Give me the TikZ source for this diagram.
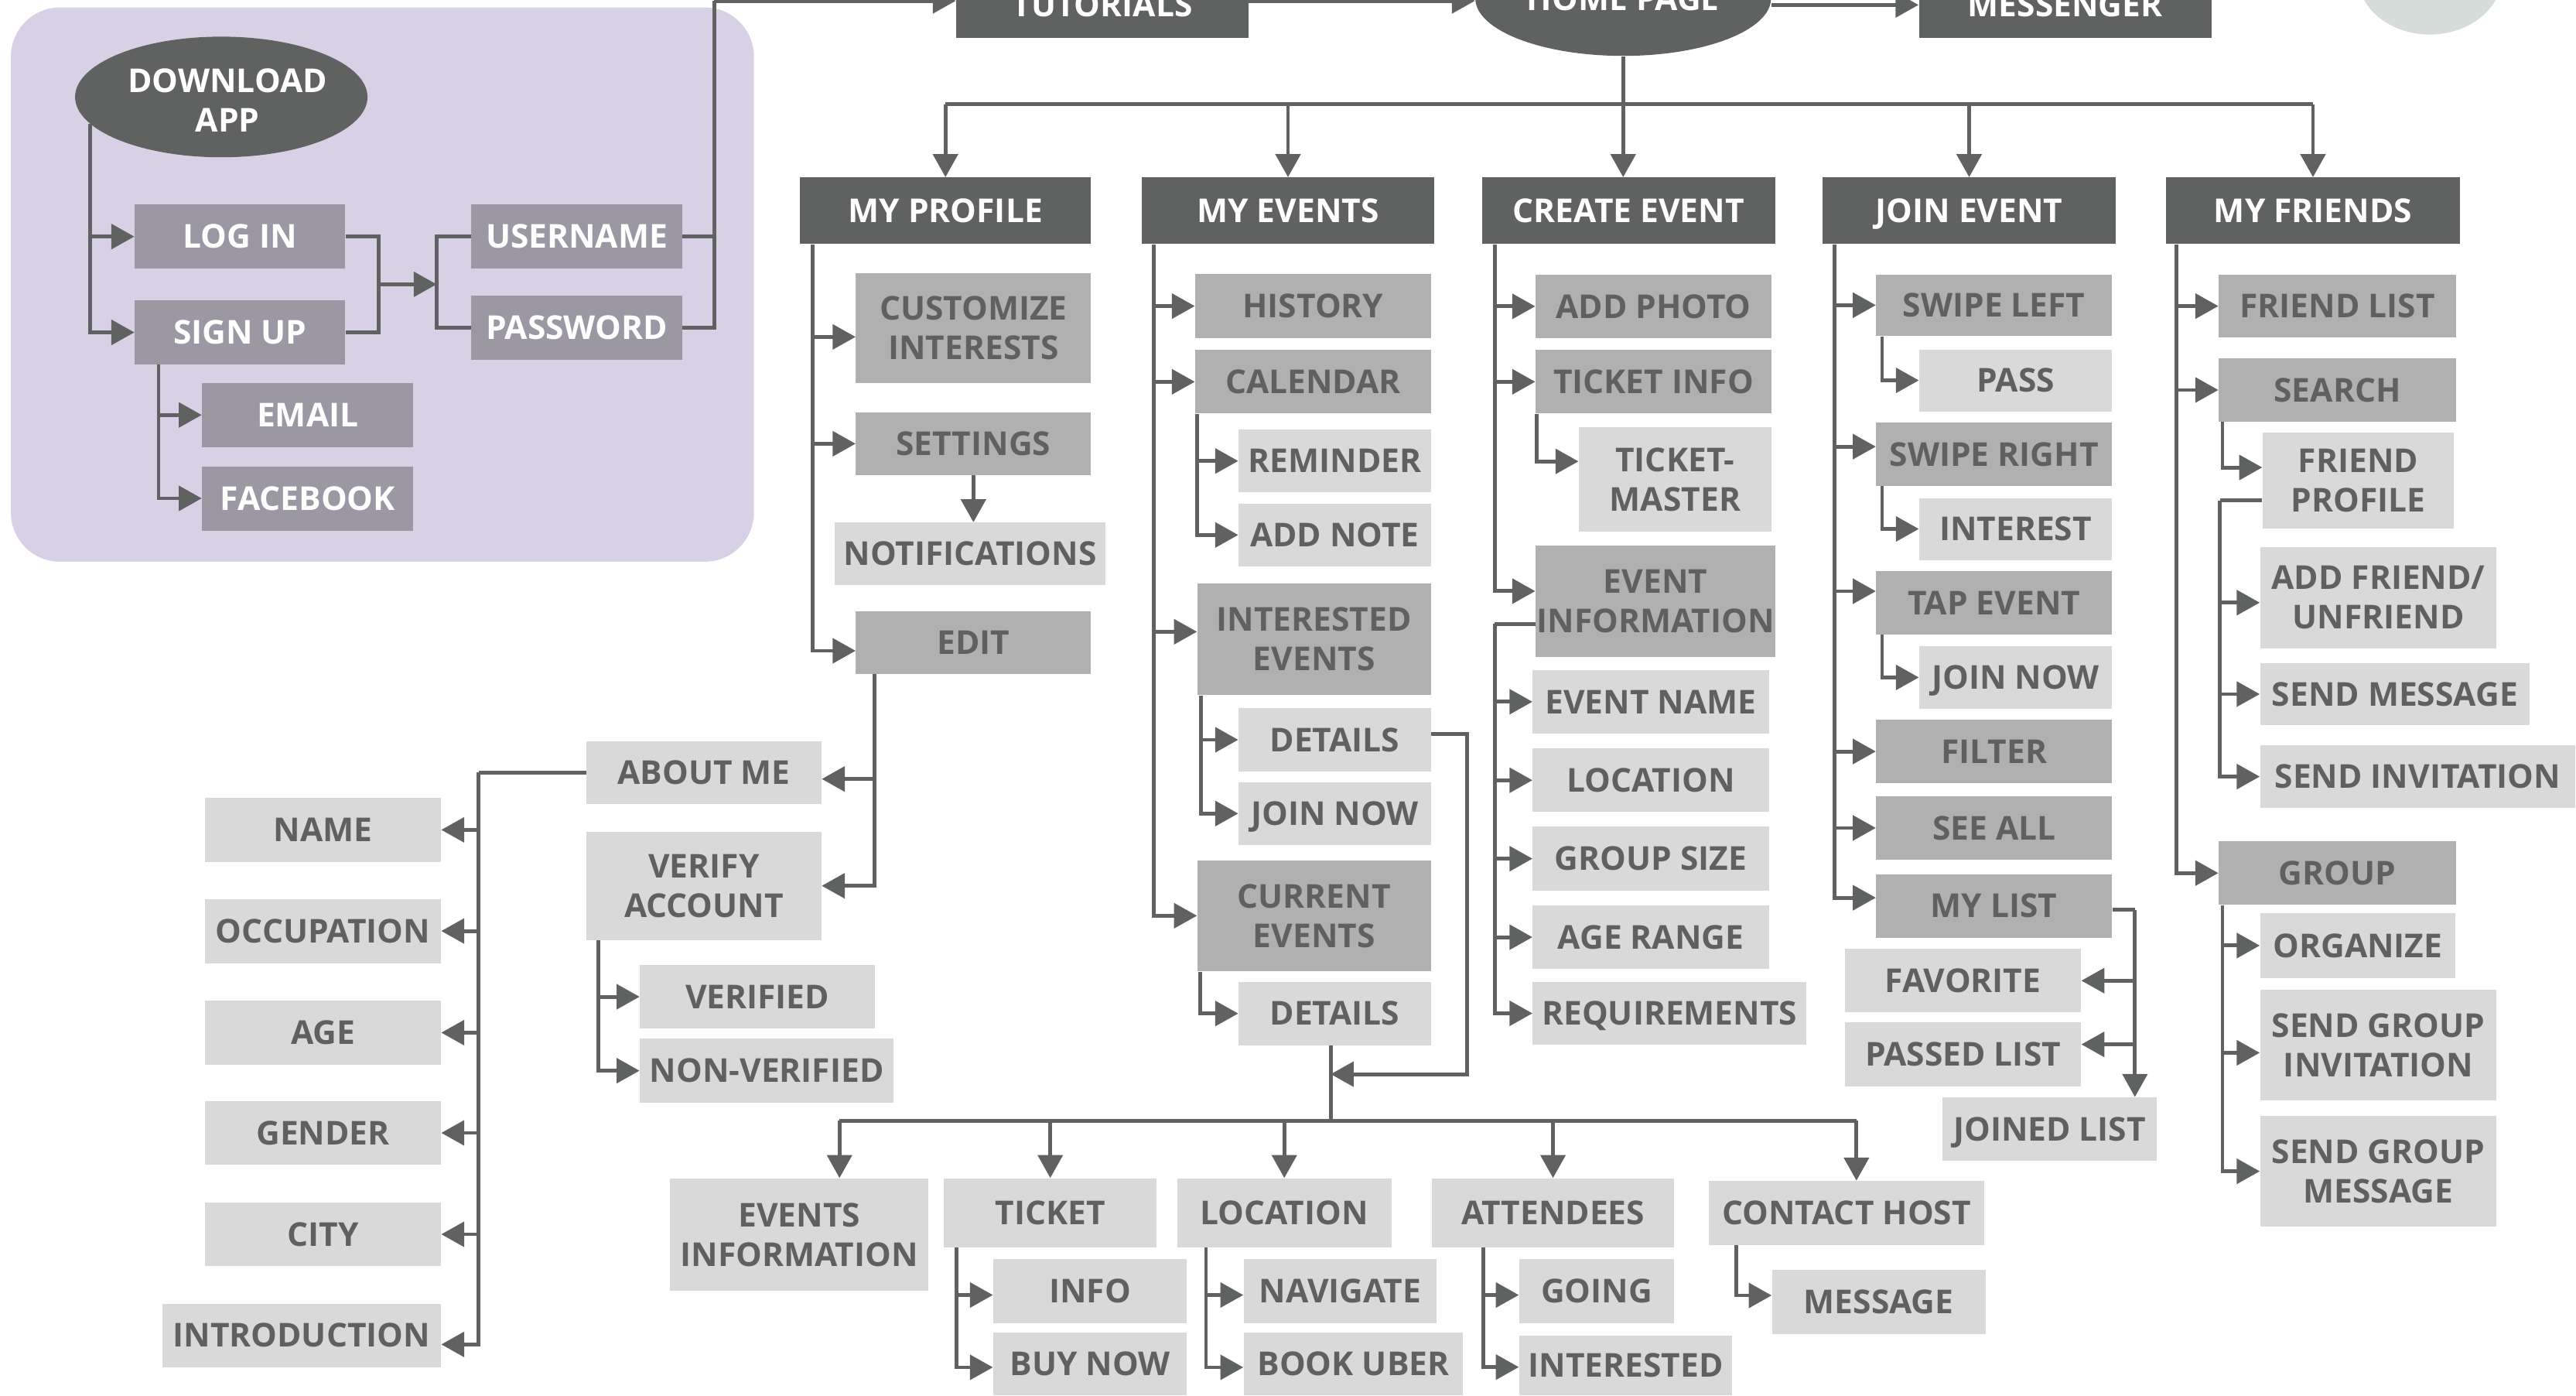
\documentclass[tikz,border=0pt]{standalone}
\usepackage{fontspec}
\setmainfont{Open Sans}
\usetikzlibrary{arrows.meta,shapes.geometric}

\definecolor{cdark}{HTML}{606261}
\definecolor{cmid}{HTML}{B0B0B0}
\definecolor{clight}{HTML}{D9D9D9}
\definecolor{cpbox}{HTML}{9B98A3}
\definecolor{cpbg}{HTML}{D8D1E6}
\definecolor{ctext}{HTML}{5F6160}
\definecolor{cblob}{HTML}{D6DCDA}

\tikzset{
  lbl/.style={rectangle, inner sep=0pt, align=center,
              font=\fontsize{20}{24}\selectfont\bfseries},
  hdr/.style={lbl, fill=cdark, text=white},
  midbox/.style={lbl, fill=cmid, text=ctext},
  litebox/.style={lbl, fill=clight, text=ctext},
  pbox/.style={lbl, fill=cpbox, text=white},
  nodepth/.style={text depth=0pt},
  link/.style={draw=cdark, line width=2.3pt},
  arr/.style={link, -{Triangle[length=14pt,width=15pt]}},
}

% box from its corners: name, style, x1, y1, x2, y2, text
\newcommand\mkbox[7]{%
  \node[#2, minimum width={(#5)-(#3)}, minimum height={(#6)-(#4)}]
    (#1) at ({((#3)+(#5))/2},{((#4)+(#6))/2}) {#7};}

\begin{document}
\begin{tikzpicture}[x=1pt,y=-1pt]
\clip (0,0) rectangle (1568,849);
\fill[white] (0,0) rectangle (1568,849);

% corner ornament
\fill[cblob] (1479,-15) ellipse [x radius=44, y radius=36];

% ---------- sign-in panel ----------
\fill[cpbg, rounded corners=30pt] (6.6,4.5) rectangle (458.9,341.8);
\node[ellipse, fill=cdark, inner sep=0pt, minimum width=178, minimum height=73.4]
  (dl) at (134.7,59) {};
\node[lbl, text=white] (dltext) at (138.5,61) {DOWNLOAD\\APP};
\mkbox{login}{pbox}{82}{124.4}{210.2}{163.5}{LOG IN}
\mkbox{signup}{pbox}{82}{182.7}{210.2}{221.8}{SIGN UP}
\mkbox{user}{pbox}{286.8}{124.4}{415.3}{163.5}{USERNAME}
\mkbox{pass}{pbox}{286.8}{179.8}{415.3}{219}{PASSWORD}
\mkbox{email}{pbox}{123}{233}{251.6}{272}{EMAIL}
\mkbox{fb}{pbox}{123}{283.7}{251.6}{322.8}{FACEBOOK}

% ---------- top row ----------
\mkbox{tut}{hdr}{582}{-17}{760}{23}{TUTORIALS}
\node[lbl, ellipse, fill=cdark, text=white, minimum width=180, minimum height=70]
  (home) at (988,-1) {HOME PAGE};
\mkbox{msg}{hdr}{1168}{-17}{1346}{23}{MESSENGER}

% ---------- section headers ----------
\mkbox{mp}{hdr}{487}{108}{664}{148.5}{MY PROFILE}
\mkbox{me}{hdr}{695}{108}{873}{148.5}{MY EVENTS}
\mkbox{ce}{hdr}{902}{108}{1080.7}{148.5}{CREATE EVENT}
\mkbox{je}{hdr,nodepth}{1109.4}{108}{1287.8}{148.5}{JOIN EVENT}
\mkbox{mf}{hdr}{1318.4}{108}{1497.4}{148.5}{MY FRIENDS}

% ---------- my profile ----------
\mkbox{cust}{midbox}{521}{166}{664}{233}{CUSTOMIZE\\INTERESTS}
\mkbox{sett}{midbox}{521}{251}{664}{289}{SETTINGS}
\mkbox{notif}{litebox}{508}{318}{673}{356}{NOTIFICATIONS}
\mkbox{edit}{midbox}{521}{372}{664}{410}{EDIT}
\mkbox{about}{litebox}{357}{451}{500}{489}{ABOUT ME}
\mkbox{verify}{litebox}{357}{506}{500}{572}{VERIFY\\ACCOUNT}
\mkbox{verified}{litebox}{389.5}{587}{532.6}{626}{VERIFIED}
\mkbox{nonver}{litebox}{389.5}{632}{544}{671}{NON-VERIFIED}
\mkbox{name}{litebox}{124.8}{485.5}{268.4}{524.4}{NAME}
\mkbox{occ}{litebox}{124.8}{547}{268.4}{586}{OCCUPATION}
\mkbox{age}{litebox}{124.8}{609}{268.4}{647.7}{AGE}
\mkbox{gender}{litebox}{124.8}{670}{268.4}{708.7}{GENDER}
\mkbox{city}{litebox}{124.8}{731.7}{268.4}{770.4}{CITY}
\mkbox{intro}{litebox}{98.7}{793.3}{268.4}{831.8}{INTRODUCTION}

% ---------- my events ----------
\mkbox{hist}{midbox}{727.5}{166.7}{871}{205.8}{HISTORY}
\mkbox{cal}{midbox}{727.5}{213}{871}{251.6}{CALENDAR}
\mkbox{rem}{litebox}{753.9}{261.4}{871}{299.6}{REMINDER}
\mkbox{note}{litebox}{753.9}{306.4}{871}{344.6}{ADD NOTE}
\mkbox{intev}{midbox}{728.8}{355}{871}{423}{INTERESTED\\EVENTS}
\mkbox{det1}{litebox}{753.9}{431}{871}{469.3}{DETAILS}
\mkbox{join1}{litebox,nodepth}{753.9}{476}{871}{514}{JOIN NOW}
\mkbox{curev}{midbox}{728.8}{523.4}{871}{591}{CURRENT\\EVENTS}
\mkbox{det2}{litebox}{753.9}{597.4}{871}{636}{DETAILS}

% ---------- event details ----------
\mkbox{evinfo}{litebox}{408}{717}{565}{785.5}{EVENTS\\INFORMATION}
\mkbox{ticket}{litebox}{574.6}{717}{704}{759}{TICKET}
\mkbox{loc}{litebox}{716.5}{717}{847}{759}{LOCATION}
\mkbox{att}{litebox}{871.6}{717}{1019}{759}{ATTENDEES}
\mkbox{contact}{litebox}{1040}{718.6}{1208}{757.6}{CONTACT HOST}
\mkbox{info}{litebox}{604.6}{766}{722.4}{805}{INFO}
\mkbox{buy}{litebox}{604.6}{811}{722.4}{849}{BUY NOW}
\mkbox{nav}{litebox}{757}{766}{874.6}{805}{NAVIGATE}
\mkbox{uber}{litebox}{757}{811}{890.6}{849}{BOOK UBER}
\mkbox{going}{litebox}{924.7}{766}{1019}{805}{GOING}
\mkbox{inter}{litebox}{924.7}{812.7}{1054.5}{849}{INTERESTED}
\mkbox{message}{litebox}{1078.6}{772.7}{1208.5}{811.8}{MESSAGE}

% ---------- create event ----------
\mkbox{photo}{midbox}{934.7}{167}{1078.3}{205.8}{ADD PHOTO}
\mkbox{tinfo}{midbox}{934.7}{213}{1078.3}{251.6}{TICKET INFO}
\mkbox{tmaster}{litebox}{961}{260}{1078.3}{323.5}{TICKET-\\MASTER}
\mkbox{evinfo2}{midbox}{934.7}{332}{1080.7}{399.8}{EVENT\\INFORMATION}
\mkbox{ename}{litebox}{933}{407.6}{1076.7}{446.4}{EVENT NAME}
\mkbox{cloc}{litebox}{933}{455.5}{1076.7}{494}{LOCATION}
\mkbox{gsize}{litebox}{933}{503}{1076.7}{542}{GROUP SIZE}
\mkbox{arange}{litebox}{933}{551}{1076.7}{589.5}{AGE RANGE}
\mkbox{req}{litebox,nodepth}{933}{597.5}{1099.5}{635.7}{REQUIREMENTS}

% ---------- join event ----------
\mkbox{sl}{midbox}{1142}{167}{1285.5}{204.4}{SWIPE LEFT}
\mkbox{passn}{litebox}{1168.2}{212.6}{1285.5}{250.3}{PASS}
\mkbox{sr}{midbox}{1142}{257}{1285.5}{295.7}{SWIPE RIGHT}
\mkbox{interest}{litebox}{1168.2}{303}{1285.5}{340.7}{INTEREST}
\mkbox{tap}{midbox}{1142}{347.5}{1285.5}{386}{TAP EVENT}
\mkbox{jn}{litebox,nodepth}{1168.2}{393}{1285.5}{431.4}{JOIN NOW}
\mkbox{filter}{midbox}{1142}{438}{1285.5}{476.5}{FILTER}
\mkbox{seeall}{midbox}{1142}{484.6}{1285.5}{523}{SEE ALL}
\mkbox{mylist}{midbox}{1142}{532}{1285.5}{570.5}{MY LIST}
\mkbox{fav}{litebox}{1123}{577.4}{1266.7}{616}{FAVORITE}
\mkbox{passed}{litebox}{1123}{622}{1266.7}{661}{PASSED LIST}
\mkbox{joined}{litebox,nodepth}{1182.4}{667.7}{1312.8}{706.3}{JOINED LIST}

% ---------- my friends ----------
\mkbox{flist}{midbox}{1350.5}{167.3}{1495}{205.2}{FRIEND LIST}
\mkbox{search}{midbox}{1350.5}{218}{1495}{256.6}{SEARCH}
\mkbox{fprof}{litebox}{1377.2}{263}{1493.6}{321.5}{FRIEND\\PROFILE}
\mkbox{addf}{litebox}{1375.7}{332.8}{1519.7}{394.6}{ADD FRIEND/\\UNFRIEND}
\mkbox{sendm}{litebox}{1375.7}{403.4}{1539.8}{441.3}{SEND MESSAGE}
\mkbox{sendi}{litebox}{1375.7}{453.5}{1567.6}{491.6}{SEND INVITATION}
\mkbox{group}{midbox}{1350.5}{512}{1495}{550.5}{GROUP}
\mkbox{org}{litebox}{1375.7}{555.7}{1494.6}{595}{ORGANIZE}
\mkbox{sgi}{litebox}{1375.7}{602}{1519.7}{669.8}{SEND GROUP\\INVITATION}
\mkbox{sgm}{litebox}{1375.7}{679}{1519.7}{746.4}{SEND GROUP\\MESSAGE}

% ================= connectors =================
% sign-in panel
\coordinate (dlT) at (55,75.3);
\draw[arr] (dlT) |- (login.west);
\draw[arr] (dlT) |- (signup.west);
\coordinate (lsJ) at (230.6,173);
\coordinate (upJ) at (265.8,173);
\draw[link] (login.east) -| (lsJ);
\draw[link] (signup.east) -| (lsJ);
\draw[arr] (lsJ) -- (upJ);
\draw[link] (user.west) -| (upJ);
\draw[link] (pass.west) -| (upJ);
\coordinate (rtJ) at (434.8,0.5);
\draw[link] (user.east) -| (rtJ);
\draw[link] (pass.east) -| (rtJ);
\draw[arr] (rtJ) -- (rtJ -| tut.west);
\coordinate (suT) at ([xshift=14.7pt]signup.south west);
\draw[arr] (suT) |- (email.west);
\draw[arr] (suT) |- (fb.west);

% top row and main bus
\coordinate (thA) at ([yshift=2.5pt]tut.east);
\draw[arr] (thA) -- (thA -| home.west);
\draw[arr] (msg.west -| home.east) -- (msg.west);
\coordinate (busY) at (0,63.5);
\draw[link] (mp.north |- busY) -- (mf.north |- busY);
\draw[arr] (home.south) -- (home.south |- ce.north);
\foreach \h in {mp,me,je,mf} \draw[arr] (\h.north |- busY) -- (\h.north);

% my profile
\coordinate (mpT) at ([xshift=8pt]mp.south west);
\draw[arr] (mpT) |- ([yshift=-5.5pt]cust.west);
\draw[arr] (mpT) |- (sett.west);
\draw[arr] (mpT) |- ([yshift=-5pt]edit.west);
\draw[arr] (sett.south) -- (sett.south |- notif.north);
\coordinate (edT) at ([xshift=11.6pt]edit.south west);
\draw[arr] (edT) |- ([yshift=-4pt]about.east);
\draw[arr] (edT) |- (verify.east);
\coordinate (vaT) at ([xshift=7.5pt]verify.south west);
\draw[arr] (vaT) |- (verified.west);
\draw[arr] (vaT) |- (nonver.west);
\coordinate (abJ) at ([xshift=-65.5pt]about.west);
\draw[link] (about.west) -- (abJ);
\foreach \n in {name,occ,age,gender,city} \draw[arr] (abJ) |- (\n.east);
\draw[arr] (abJ) |- ([yshift=-5.5pt]intro.east);

% my events
\coordinate (meT) at ([xshift=7.4pt]me.south west);
\draw[arr] (meT) |- (hist.west);
\draw[arr] (meT) |- (cal.west);
\draw[arr] (meT) |- ([yshift=4.6pt]intev.west);
\draw[arr] (meT) |- (curev.west);
\coordinate (calT) at ([xshift=1.5pt]cal.south west);
\draw[arr] (calT) |- (rem.west);
\draw[arr] (calT) |- (note.west);
\coordinate (intT) at ([xshift=2.6pt]intev.south west);
\draw[arr] (intT) |- (det1.west);
\draw[arr] (intT) |- (join1.west);
\coordinate (curT) at ([xshift=1.8pt]curev.south west);
\draw[arr] (curT) |- (det2.west);
\coordinate (dJ) at (810,653.6);
\coordinate (bJ) at (810,682);
\draw[arr] ([yshift=3.7pt]det1.east) -- ++(22,0) |- (dJ);
\draw[link] (det2.south -| dJ) -- (bJ);

% event details
\coordinate (eiA) at ([xshift=24.5pt]evinfo.north);
\coordinate (chA) at ([xshift=6pt]contact.north);
\draw[link] (eiA |- bJ) -- (chA |- bJ);
\draw[arr] (eiA |- bJ) -- (eiA);
\draw[arr] (chA |- bJ) -- (chA);
\foreach \b in {ticket,loc,att} \draw[arr] (\b.north |- bJ) -- (\b.north);
\coordinate (tkT) at ([xshift=8pt]ticket.south west);
\draw[arr] (tkT) |- ([yshift=-2.5pt]info.west);
\draw[arr] (tkT) |- ([yshift=-2pt]buy.west);
\coordinate (lcT) at ([xshift=17.8pt]loc.south west);
\draw[arr] (lcT) |- ([yshift=-2.5pt]nav.west);
\draw[arr] (lcT) |- ([yshift=-2pt]uber.west);
\coordinate (atT) at ([xshift=31.4pt]att.south west);
\draw[arr] (atT) |- ([yshift=-2.5pt]going.west);
\draw[arr] (atT) |- ([yshift=-1pt]inter.west);
\coordinate (chT) at ([xshift=17pt]contact.south west);
\draw[arr] (chT) |- ([yshift=4pt]message.west);

% create event
\coordinate (ceT) at ([xshift=8pt]ce.south west);
\draw[arr] (ceT) |- (photo.west);
\draw[arr] (ceT) |- (tinfo.west);
\draw[arr] (ceT) |- ([yshift=6.2pt]evinfo2.west);
\coordinate (tiT) at ([xshift=0.8pt]tinfo.south west);
\draw[arr] (tiT) |- ([yshift=11pt]tmaster.west);
\coordinate (eiJ) at ([yshift=-13.7pt,xshift=-24.7pt]evinfo2.west);
\draw[link] ([yshift=-13.7pt]evinfo2.west) -- (eiJ);
\foreach \c in {ename,cloc,gsize,arange,req} \draw[arr] (eiJ) |- (\c.west);

% join event
\coordinate (jeT) at ([xshift=7.4pt]je.south west);
\draw[arr] (jeT) |- (sl.west);
\draw[arr] (jeT) |- ([yshift=4.6pt]sr.west);
\draw[arr] (jeT) |- ([yshift=7pt]tap.west);
\draw[arr] (jeT) |- (filter.west);
\draw[arr] (jeT) |- (seeall.west);
\draw[arr] (jeT) |- ([yshift=5pt]mylist.west);
\coordinate (slT) at ([xshift=3.8pt]sl.south west);
\draw[arr] (slT) |- (passn.west);
\coordinate (srT) at ([xshift=3.8pt]sr.south west);
\draw[arr] (srT) |- (interest.west);
\coordinate (tpT) at ([xshift=3.8pt]tap.south west);
\draw[arr] (tpT) |- (jn.west);
\coordinate (mlJ) at ([xshift=13.8pt,yshift=-2.3pt]mylist.east);
\draw[link] ([yshift=-2.3pt]mylist.east) -- (mlJ);
\draw[arr] (mlJ) -- (mlJ |- joined.north);
\draw[arr] (mlJ) |- (fav.east);
\draw[arr] (mlJ) |- ([yshift=6pt]passed.east);

% my friends
\coordinate (mfT) at ([xshift=6.6pt]mf.south west);
\draw[arr] (mfT) |- (flist.west);
\draw[arr] (mfT) |- (search.west);
\draw[arr] (mfT) |- (group.west);
\coordinate (seT) at ([xshift=2.5pt]search.south west);
\draw[arr] (seT) |- ([yshift=7.8pt]fprof.west);
\coordinate (fpJ) at ([yshift=-12.2pt,xshift=-25.7pt]fprof.west);
\draw[link] ([yshift=-12.2pt]fprof.west) -- (fpJ);
\draw[arr] (fpJ) |- ([yshift=-3pt]addf.west);
\draw[arr] (fpJ) |- (sendm.west);
\draw[arr] (fpJ) |- (sendi.west);
\coordinate (grT) at ([xshift=2.5pt]group.south west);
\draw[arr] (grT) |- (org.west);
\draw[arr] (grT) |- ([yshift=-4.7pt]sgi.west);
\draw[arr] (grT) |- (sgm.west);
\end{tikzpicture}
\end{document}
